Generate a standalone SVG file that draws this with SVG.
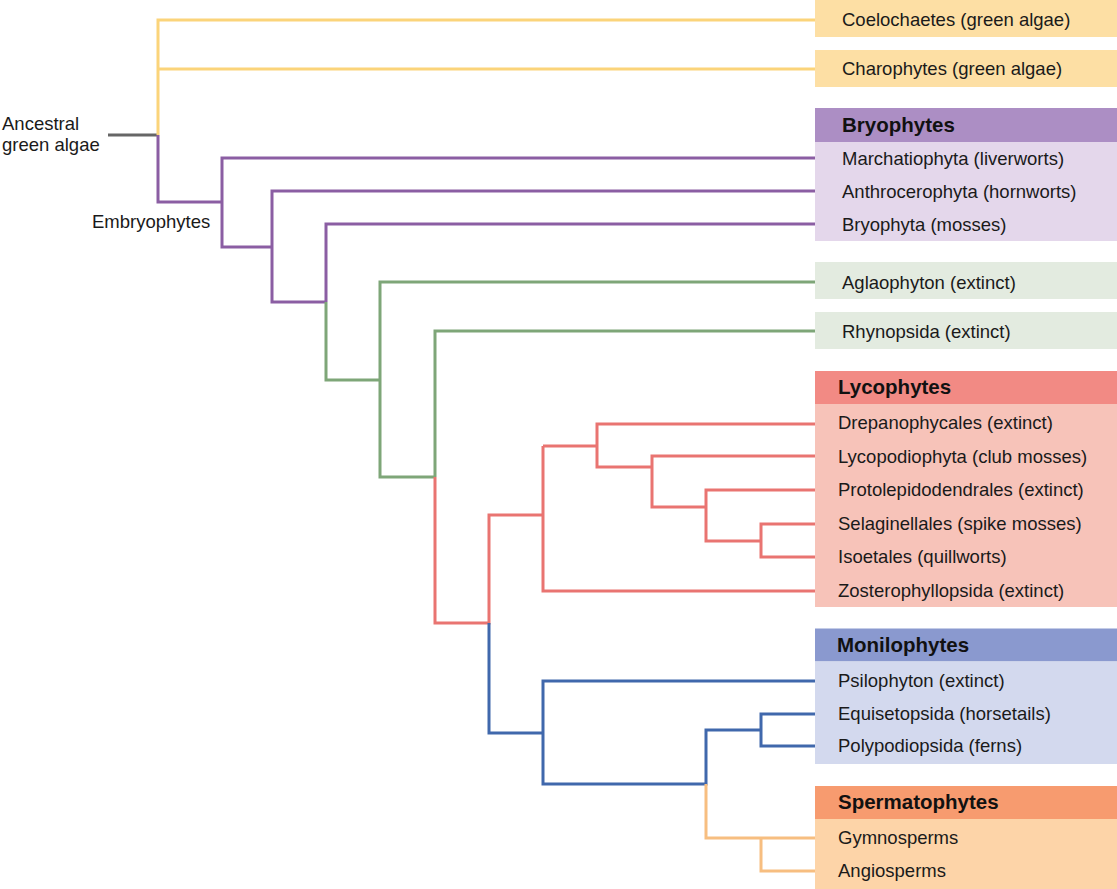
<svg xmlns="http://www.w3.org/2000/svg" width="1117" height="889" viewBox="0 0 1117 889">
<style>
text{font-family:"Liberation Sans",Arial,sans-serif;font-size:18.5px;fill:#1a1a1a}
.h{font-weight:bold;font-size:20.5px;fill:#111}
.c{fill:none;stroke-width:3;stroke-linejoin:miter}
.gy{stroke:#666666}.yl{stroke:#fbd47a}.pu{stroke:#8b5ea3}.gr{stroke:#7ea678}.rd{stroke:#e97471}.bl{stroke:#4068ac}.or{stroke:#f7be80}
</style>
<rect width="1117" height="889" fill="#ffffff"/>
<g id="connectors">
<path class="c gy" d="M108 135H158"/>
<path class="c yl" d="M815 20H158V135M158 69H815"/>
<path class="c pu" d="M158 135V202H222M815 158H222V247H272M815 191H272V302H326M815 224H326V302"/>
<path class="c gr" d="M326 302V380H380M815 282H380V477H435M815 331H435V477"/>
<path class="c rd" d="M435 477V623H489V515H543M815 424H597V467H652M543 446H597M543 446V591H815M815 456H652V507H706M815 490H706V541H761M815 524H761V557H815"/>
<path class="c bl" d="M489 623V733H543M815 681H543V784H706V730H761M815 714H761V746H815"/>
<path class="c or" d="M706 784V838H815M761 838V871H815"/>
</g>
<g id="labels">
<text x="2" y="130">Ancestral</text>
<text x="2" y="151">green algae</text>
<text x="92" y="228">Embryophytes</text>
</g>
<g id="coelochaetes">
<rect x="815" y="0" width="302" height="37" fill="#fddfa4"/>
<text x="842" y="26">Coelochaetes (green algae)</text>
</g>
<g id="charophytes">
<rect x="815" y="50" width="302" height="37" fill="#fddfa4"/>
<text x="842" y="75">Charophytes (green algae)</text>
</g>
<g id="bryophytes">
<rect x="815" y="108" width="302" height="34" fill="#ac8ec4"/>
<rect x="815" y="142" width="302" height="99" fill="#e4d7eb"/>
<text class="h" x="842" y="131.5">Bryophytes</text>
<text x="842" y="164.5">Marchatiophyta (liverworts)</text>
<text x="842" y="197.5">Anthrocerophyta (hornworts)</text>
<text x="842" y="230.5">Bryophyta (mosses)</text>
</g>
<g id="aglaophyton">
<rect x="815" y="262" width="302" height="37" fill="#e3ebe0"/>
<text x="842" y="288.5">Aglaophyton (extinct)</text>
</g>
<g id="rhynopsida">
<rect x="815" y="312" width="302" height="37" fill="#e3ebe0"/>
<text x="842" y="337.5">Rhynopsida (extinct)</text>
</g>
<g id="lycophytes">
<rect x="815" y="371" width="302" height="33" fill="#f28a84"/>
<rect x="815" y="404" width="302" height="203" fill="#f7c3b9"/>
<text class="h" x="838" y="393.5">Lycophytes</text>
<text x="838" y="429">Drepanophycales (extinct)</text>
<text x="838" y="462.5">Lycopodiophyta (club mosses)</text>
<text x="838" y="496">Protolepidodendrales (extinct)</text>
<text x="838" y="530">Selaginellales (spike mosses)</text>
<text x="838" y="563">Isoetales (quillworts)</text>
<text x="838" y="597">Zosterophyllopsida (extinct)</text>
</g>
<g id="monilophytes">
<rect x="815" y="628.5" width="302" height="33" fill="#8a99cf"/>
<rect x="815" y="661.5" width="302" height="102.5" fill="#d3d9ee"/>
<text class="h" x="837" y="651.5">Monilophytes</text>
<text x="838" y="687">Psilophyton (extinct)</text>
<text x="838" y="720">Equisetopsida (horsetails)</text>
<text x="838" y="752">Polypodiopsida (ferns)</text>
</g>
<g id="spermatophytes">
<rect x="815" y="786" width="302" height="33" fill="#f79b6f"/>
<rect x="815" y="819" width="302" height="70" fill="#fdd4a8"/>
<text class="h" x="838" y="808.5">Spermatophytes</text>
<text x="838" y="844">Gymnosperms</text>
<text x="838" y="877">Angiosperms</text>
</g>
</svg>
